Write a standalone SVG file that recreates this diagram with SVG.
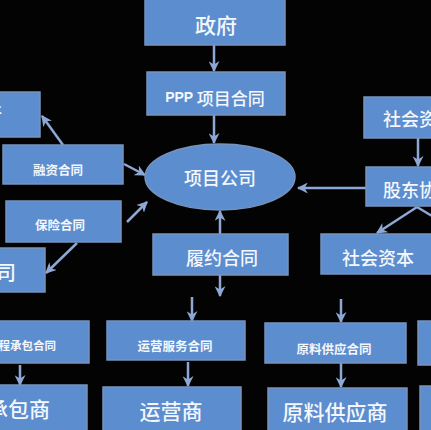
<svg xmlns="http://www.w3.org/2000/svg" width="431" height="430" viewBox="0 0 431 430">
<defs>
<style>
.box{fill:#5b8dcf;stroke:#7894bd;stroke-width:1.5}
.t{fill:#f4f7fc;font-family:"Noto Sans CJK SC","Liberation Sans",sans-serif;dominant-baseline:central;text-anchor:middle}
.big{font-size:19px;font-weight:500}
.sm{font-size:12.5px;font-weight:bold}
.c{fill:none;stroke:#8ea8d6;stroke-width:2.5}
</style>
<marker id="ah" viewBox="0 0 10 10" refX="9" refY="5" markerWidth="11" markerHeight="11" markerUnits="userSpaceOnUse" orient="auto">
<path d="M0,0 L10,5 L0,10 L3,5 Z" fill="#8ea8d6"/>
</marker>
</defs>
<rect width="431" height="430" fill="#030303"/>

<g id="connectors">
<line class="c" x1="214" y1="45" x2="214" y2="71" marker-end="url(#ah)"/>
<line class="c" x1="214" y1="115" x2="214" y2="143" marker-end="url(#ah)"/>
<line class="c" x1="63" y1="145" x2="42" y2="116" marker-end="url(#ah)"/>
<line class="c" x1="124" y1="164" x2="145" y2="175" marker-end="url(#ah)"/>
<line class="c" x1="127" y1="222" x2="147" y2="202" marker-end="url(#ah)"/>
<line class="c" x1="77" y1="243" x2="46" y2="273" marker-end="url(#ah)"/>
<line class="c" x1="220" y1="234" x2="220" y2="211" marker-end="url(#ah)"/>
<line class="c" x1="220" y1="275" x2="220" y2="296" marker-end="url(#ah)"/>
<line class="c" x1="192" y1="297" x2="192" y2="321" marker-end="url(#ah)"/>
<line class="c" x1="418" y1="138" x2="418" y2="166" marker-end="url(#ah)"/>
<line class="c" x1="366" y1="188" x2="298" y2="188" marker-end="url(#ah)"/>
<line class="c" x1="417" y1="207" x2="377" y2="233" marker-end="url(#ah)"/>
<line class="c" x1="417" y1="207" x2="432" y2="216"/>
<line class="c" x1="341" y1="299" x2="341" y2="322" marker-end="url(#ah)"/>
<line class="c" x1="20" y1="365" x2="20" y2="385" marker-end="url(#ah)"/>
<line class="c" x1="188" y1="362" x2="188" y2="386" marker-end="url(#ah)"/>
<line class="c" x1="341" y1="363" x2="341" y2="387" marker-end="url(#ah)"/>
</g>

<g id="gov"><rect class="box" x="145" y="-3" width="140" height="48"/><text class="t big" x="216" y="24" style="font-size:21px">政府</text></g>
<g id="ppp"><rect class="box" x="147" y="72" width="138" height="43"/><text class="t" x="215" y="97" style="font-weight:bold"><tspan style="font-family:'Liberation Sans',sans-serif;font-size:14px">PPP </tspan><tspan style="font-size:17px;font-weight:500">项目合同</tspan></text></g>
<g id="company"><ellipse class="box" cx="220" cy="177" rx="75" ry="33"/><text class="t big" x="220" y="177" style="font-size:18px">项目公司</text></g>
<g id="bank"><rect class="box" x="-5" y="92" width="45" height="45"/><text class="t big" x="2" y="114" style="text-anchor:end;font-size:20px">银行</text></g>
<g id="finance"><rect class="box" x="3" y="145" width="120" height="39"/><text class="t sm" x="58" y="169">融资合同</text></g>
<g id="insure"><rect class="box" x="6" y="201" width="115" height="41"/><text class="t sm" x="60" y="224">保险合同</text></g>
<g id="insurer"><rect class="box" x="-5" y="248" width="50" height="44"/><text class="t big" x="16" y="271" style="text-anchor:end;font-size:20px">保险公司</text></g>
<g id="perform"><rect class="box" x="153" y="234" width="135" height="41"/><text class="t big" x="222" y="257" style="font-size:18px">履约合同</text></g>
<g id="capital-top"><rect class="box" x="364" y="97" width="80" height="41"/><text class="t big" x="383" y="118" style="text-anchor:start;font-size:18px">社会资本</text></g>
<g id="sharehold"><rect class="box" x="366" y="167" width="80" height="39"/><text class="t big" x="383" y="189" style="text-anchor:start;font-size:18px">股东协议</text></g>
<g id="capital"><rect class="box" x="321" y="234" width="115" height="40"/><text class="t big" x="378" y="257" style="font-size:18px">社会资本</text></g>
<g id="epc"><rect class="box" x="-5" y="321" width="94" height="42"/><text class="t sm" x="56" y="345" style="text-anchor:end;font-size:11.5px">工程承包合同</text></g>
<g id="om"><rect class="box" x="107" y="321" width="138" height="39"/><text class="t sm" x="175" y="345">运营服务合同</text></g>
<g id="supply"><rect class="box" x="265" y="323" width="141" height="40"/><text class="t sm" x="334" y="348">原料供应合同</text></g>
<g id="right-contract"><rect class="box" x="418" y="321" width="20" height="44"/></g>
<g id="contractor"><rect class="box" x="-5" y="385" width="92" height="50"/><text class="t big" x="50" y="408" style="text-anchor:end;font-size:21px">承包商</text></g>
<g id="operator"><rect class="box" x="103" y="387" width="138" height="48"/><text class="t big" x="171" y="410" style="font-size:21px">运营商</text></g>
<g id="supplier"><rect class="box" x="268" y="388" width="139" height="47"/><text class="t big" x="335" y="411" style="font-size:21px">原料供应商</text></g>
<g id="right-party"><rect class="box" x="420" y="386" width="20" height="50"/></g>
</svg>
